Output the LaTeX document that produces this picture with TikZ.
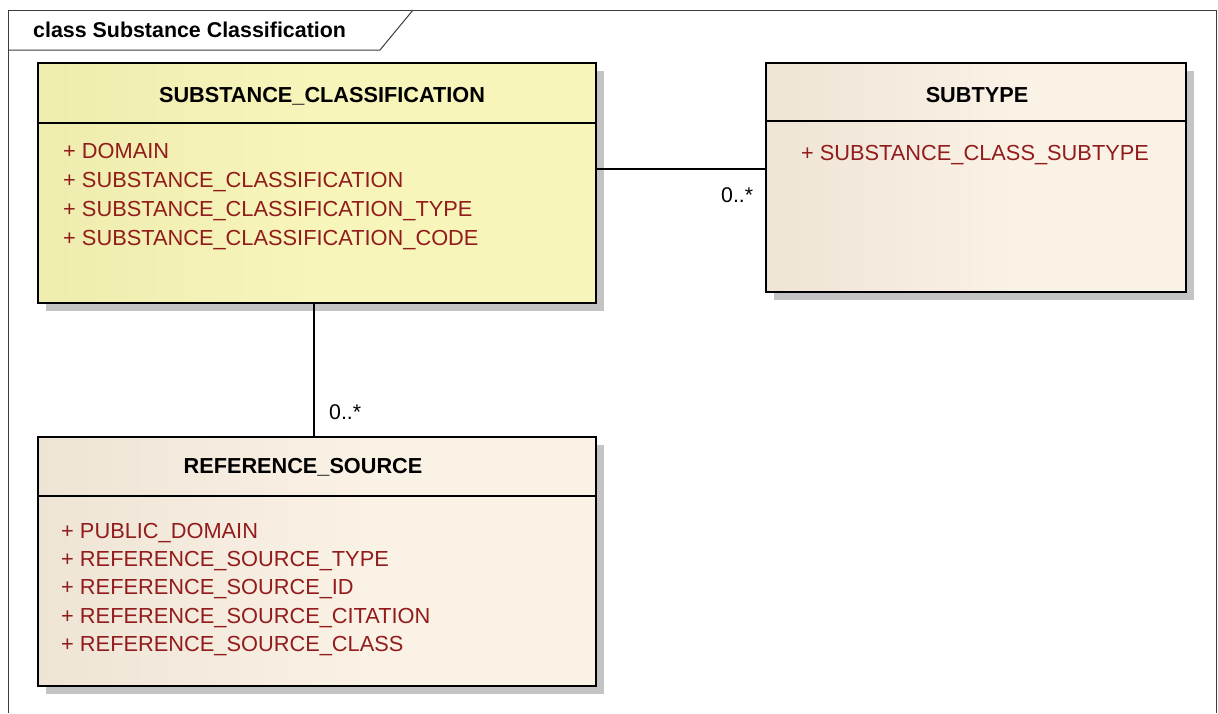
\documentclass[tikz,border=0pt]{standalone}
\usepackage{fontspec}
\setmainfont{Liberation Sans}
\usetikzlibrary{shadows}

\definecolor{framegrey}{HTML}{3C3C3C}
\definecolor{shadowgrey}{HTML}{C4C4C4}
\definecolor{attrred}{HTML}{921C1C}
\definecolor{yelL}{HTML}{E4E2A2}
\definecolor{yelR}{HTML}{F7F5BA}
\definecolor{begL}{HTML}{E2D9C8}
\definecolor{begR}{HTML}{FBF2E6}

% left-to-right fades used by the class boxes
\pgfdeclarehorizontalshading{yellowfade}{100bp}{color(0bp)=(yelL); color(50bp)=(yelR); color(100bp)=(yelR)}
\pgfdeclarehorizontalshading{beigefade}{100bp}{color(0bp)=(begL); color(55bp)=(begR); color(100bp)=(begR)}

\tikzset{
  classbox/.style={draw=black, line width=1.8pt, rectangle, inner sep=0pt, anchor=north west,
    drop shadow={shadow xshift=8pt, shadow yshift=-8pt, fill=shadowgrey, opacity=1}},
  yellowclass/.style={classbox, shading=yellowfade},
  beigeclass/.style={classbox, shading=beigefade},
  divider/.style={draw=black, line width=1.3pt},
  header/.style={font=\fontsize{21.7}{25}\selectfont\bfseries, inner sep=0pt, anchor=base},
  attr/.style={font=\fontsize{21.8}{25}\selectfont, text=attrred, inner sep=0pt, anchor=base west},
  mult/.style={font=\fontsize{21.3}{25}\selectfont, inner sep=0pt, anchor=base west},
  assoc/.style={draw=black, line width=1.5pt},
  frameline/.style={draw=framegrey, line width=1pt}
}

\begin{document}
\begin{tikzpicture}[x=1pt, y=-1pt]
  \useasboundingbox (0,0) rectangle (1218,713);
  \fill[white] (0,0) rectangle (1218,713);

  % diagram frame and name tab
  \draw[frameline] (8,713) -- (8,10) -- (1216,10) -- (1216,713);
  \draw[frameline] (8,50) -- (380,50) -- (413,10);
  \node[font=\fontsize{21.4}{25}\selectfont\bfseries, inner sep=0pt, anchor=base west]
    (title) at (33,37) {class Substance Classification};

  % SUBSTANCE_CLASSIFICATION
  \node[yellowclass, minimum width=558pt, minimum height=240pt] (sc) at (37,62) {};
  \draw[divider] ([yshift=-61pt]sc.north west) -- ([yshift=-61pt]sc.north east);
  \node[header] (scname) at (322,102) {SUBSTANCE\_CLASSIFICATION};
  \node[attr] (sca1) at (63,158) {+ DOMAIN};
  \node[attr] (sca2) at (63,187) {+ SUBSTANCE\_CLASSIFICATION};
  \node[attr] (sca3) at (63,216) {+ SUBSTANCE\_CLASSIFICATION\_TYPE};
  \node[attr] (sca4) at (63,245) {+ SUBSTANCE\_CLASSIFICATION\_CODE};

  % SUBTYPE
  \node[beigeclass, minimum width=420pt, minimum height=229pt] (st) at (765,62) {};
  \draw[divider] ([yshift=-59pt]st.north west) -- ([yshift=-59pt]st.north east);
  \node[header] (stname) at (977,102) {SUBTYPE};
  \node[attr, anchor=base] (sta1) at (975,160) {+ SUBSTANCE\_CLASS\_SUBTYPE};

  % REFERENCE_SOURCE
  \node[beigeclass, minimum width=558pt, minimum height=249pt] (rs) at (37,436) {};
  \draw[divider] ([yshift=-60pt]rs.north west) -- ([yshift=-60pt]rs.north east);
  \node[header] (rsname) at (303,473) {REFERENCE\_SOURCE};
  \node[attr] (rsa1) at (61,538) {+ PUBLIC\_DOMAIN};
  \node[attr] (rsa2) at (61,566) {+ REFERENCE\_SOURCE\_TYPE};
  \node[attr] (rsa3) at (61,594) {+ REFERENCE\_SOURCE\_ID};
  \node[attr] (rsa4) at (61,623) {+ REFERENCE\_SOURCE\_CITATION};
  \node[attr] (rsa5) at (61,651) {+ REFERENCE\_SOURCE\_CLASS};

  % associations
  \draw[assoc] (sc.east |- 0,169) -- (st.west |- 0,169);
  \node[mult] (m1) at (721,202) {0..*};
  \draw[assoc] (sc.south -| 314,0) -- (rs.north -| 314,0);
  \node[mult] (m2) at (329,419) {0..*};
\end{tikzpicture}
\end{document}
